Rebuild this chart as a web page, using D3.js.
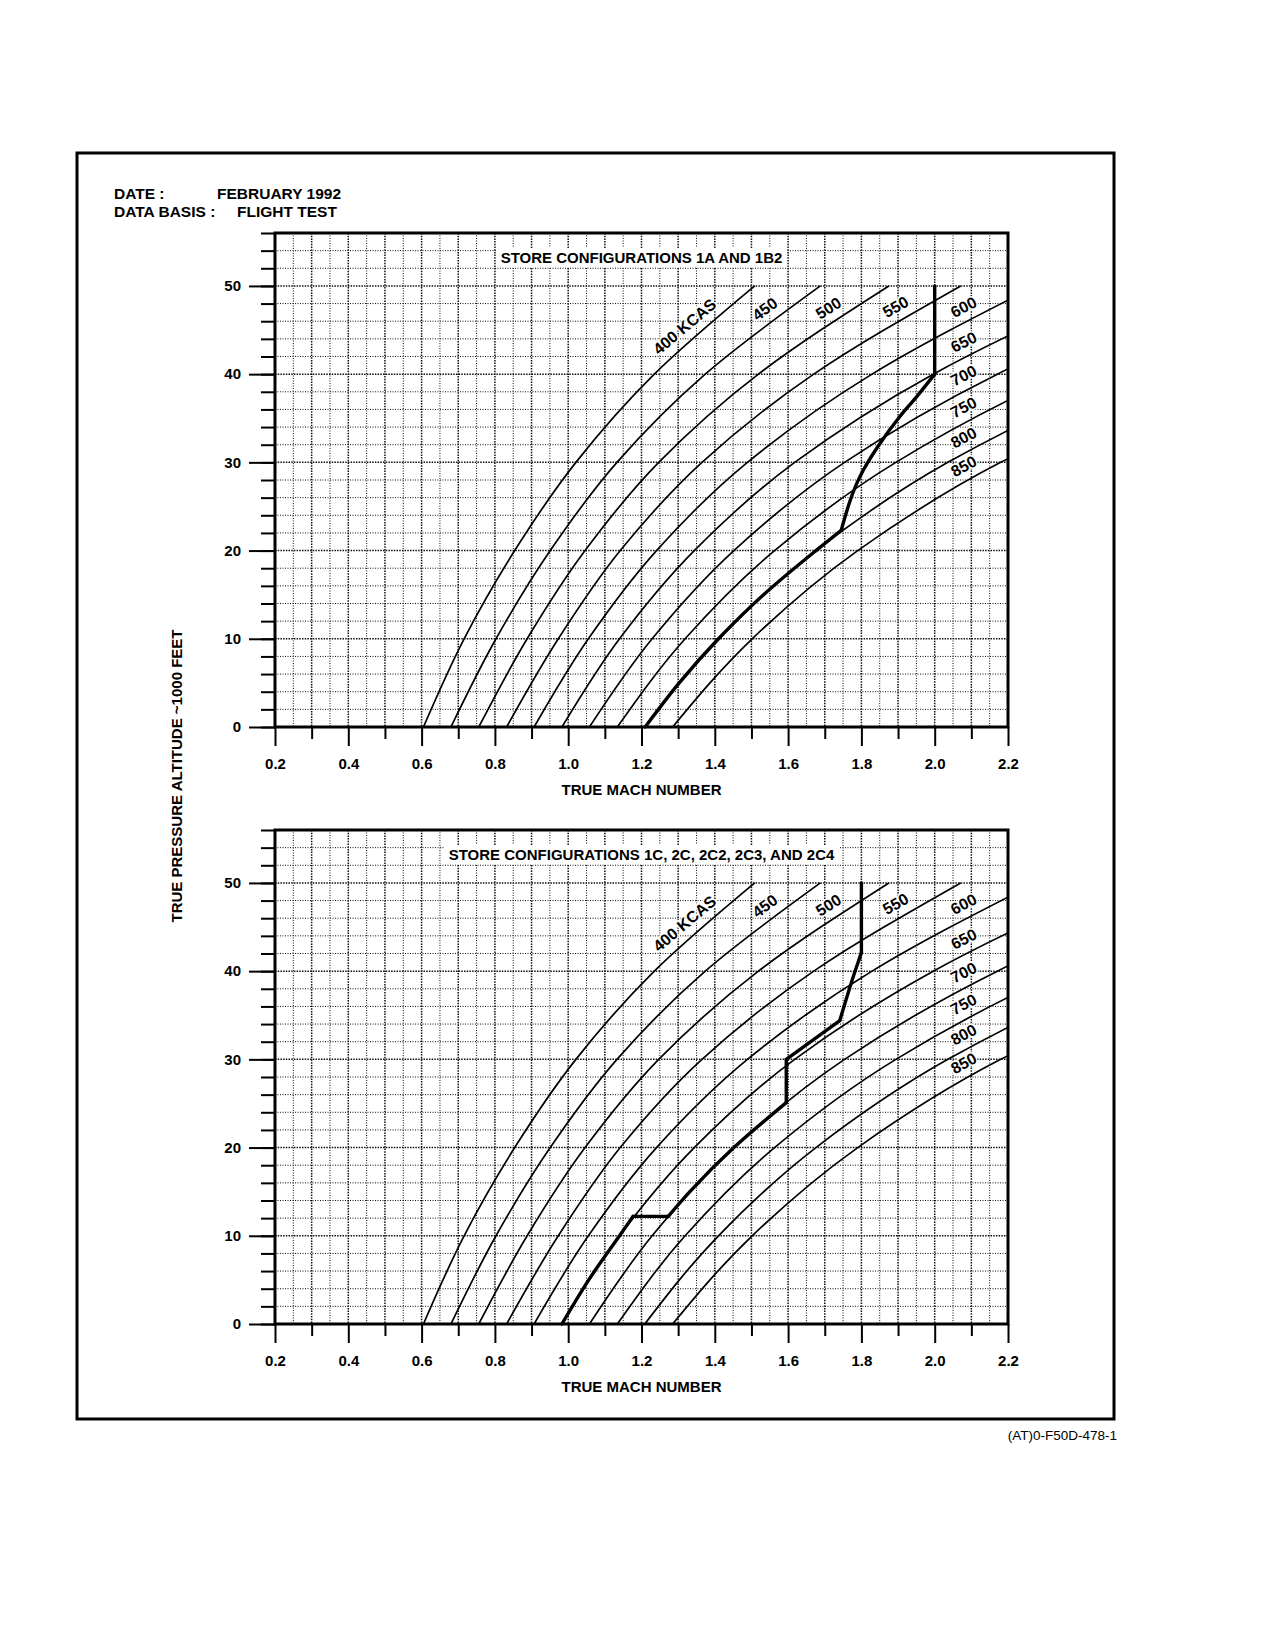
<!DOCTYPE html>
<html>
<head>
<meta charset="utf-8">
<script src="https://cdn.jsdelivr.net/npm/d3@7"></script>
<style>
  body { margin: 0; background: #fff; }
  text { font-family: "Liberation Sans", Arial, Helvetica, sans-serif; font-weight: bold; fill: #000; }
  text.plain { font-weight: normal; }
</style>
</head>
<body>
<svg id="chart" width="1270" height="1643"></svg>
<script>
// altitude rows (1000 ft) at which each KCAS curve was read
const altitudes = [0, 10, 20, 30, 40, 50];
const kcasSpeeds = [400, 450, 500, 550, 600, 650, 700, 750, 800, 850];

// true Mach at the altitudes above
const mach400 = [0.605, 0.716, 0.854, 1.021, 1.235, 1.509];
const mach450 = [0.680, 0.803, 0.951, 1.133, 1.374, 1.688];
const mach500 = [0.756, 0.888, 1.046, 1.247, 1.519, 1.875];
const mach550 = [0.832, 0.973, 1.142, 1.365, 1.670, 2.071];
const mach600 = [0.907, 1.055, 1.241, 1.489, 1.829, 2.276];
const mach650 = [0.983, 1.140, 1.344, 1.618, 1.996, 2.492];
const mach700 = [1.058, 1.229, 1.452, 1.754, 2.171, 2.720];
const mach750 = [1.134, 1.319, 1.563, 1.894, 2.351, 2.960];
const mach800 = [1.209, 1.410, 1.676, 2.036, 2.535, 3.200];
const mach850 = [1.285, 1.502, 1.790, 2.180, 2.720, 3.450];
const machByKcas = [mach400, mach450, mach500, mach550, mach600,
                    mach650, mach700, mach750, mach800, mach850];

// limit lines (heavy), one sub-array per smooth run between corners
const limitTopMach = [[1.210, 1.303, 1.410, 1.533, 1.676, 1.745],
                      [1.745, 1.805, 1.845, 1.905, 1.950, 2.000],
                      [2.000, 2.000]];
const limitTopAlt  = [[0, 5, 10, 15, 20, 22.3],
                      [22.3, 29.1, 31.8, 35.2, 37.4, 40],
                      [40, 50]];
const limitBotMach = [[0.983, 1.056, 1.140, 1.177],
                      [1.177, 1.273],
                      [1.273, 1.332, 1.452, 1.595],
                      [1.595, 1.595],
                      [1.595, 1.741],
                      [1.741, 1.782, 1.800],
                      [1.800, 1.800]];
const limitBotAlt  = [[0, 5, 10, 12.2],
                      [12.2, 12.2],
                      [12.2, 15, 20, 25.1],
                      [25.1, 30.0],
                      [30.0, 34.4],
                      [34.4, 39.9, 42.1],
                      [42.1, 50]];

const machTicks = [0.2, 0.4, 0.6, 0.8, 1.0, 1.2, 1.4, 1.6, 1.8, 2.0, 2.2];
const altTicks = [0, 10, 20, 30, 40, 50];
const panelTitles = ['STORE CONFIGURATIONS 1A AND 1B2',
                     'STORE CONFIGURATIONS 1C, 2C, 2C2, 2C3, AND 2C4'];

const svg = d3.select('#chart');
const FONT = '"Liberation Sans", Arial, Helvetica, sans-serif';

// outer frame + header
svg.append('rect')
  .attr('x', 77).attr('y', 153).attr('width', 1037).attr('height', 1266)
  .attr('fill', 'none').attr('stroke', '#000').attr('stroke-width', 3);

const header = svg.append('g').attr('font-size', 15.5);
header.append('text').attr('x', 114).attr('y', 199).text('DATE :');
header.append('text').attr('x', 217).attr('y', 199).text('FEBRUARY 1992');
header.append('text').attr('x', 114).attr('y', 217).text('DATA BASIS :');
header.append('text').attr('x', 237).attr('y', 217).text('FLIGHT TEST');

svg.append('text')
  .attr('class', 'plain')
  .attr('x', 1117).attr('y', 1440)
  .attr('text-anchor', 'end')
  .attr('font-size', 13.5)
  .text('(AT)0-F50D-478-1');

svg.append('text')
  .attr('transform', 'translate(182,776) rotate(-90)')
  .attr('text-anchor', 'middle')
  .attr('font-size', 15)
  .text('TRUE PRESSURE ALTITUDE ~1000 FEET');

const x = d3.scaleLinear().domain([0.2, 2.2]).range([275, 1008]);

const curves = kcasSpeeds.map((k, i) => ({
  kcas: k,
  pts: altitudes.map((a, j) => ({a, m: machByKcas[i][j]})).reverse()
}));

const toRuns = (machs, alts) => machs.map((run, r) => run.map((m, i) => ({m, a: alts[r][i]})));

const panels = [
  {title: panelTitles[0], base: 727, limit: toRuns(limitTopMach, limitTopAlt)},
  {title: panelTitles[1], base: 1324, limit: toRuns(limitBotMach, limitBotAlt)}
];

panels.forEach((p, pi) => {
  const y = d3.scaleLinear().domain([0, 56]).range([p.base, p.base - 494]);
  const g = svg.append('g');
  const top = y(56), x0 = x(0.2), x1 = x(2.2);

  // grid
  const grid = g.append('g').attr('fill', 'none').attr('stroke', '#111');
  d3.range(5, 44).map(i => i * 0.05).forEach((v, i) => {
    const major = i % 2 === 1;
    grid.append('line')
      .attr('x1', x(v)).attr('x2', x(v)).attr('y1', top).attr('y2', p.base)
      .attr('stroke-width', major ? 1.5 : 1)
      .attr('stroke-dasharray', major ? '1.5,1.2' : '1,1.5');
  });
  d3.range(1, 28).map(i => i * 2).forEach(v => {
    const major = v % 10 === 0;
    grid.append('line')
      .attr('x1', x0).attr('x2', x1).attr('y1', y(v)).attr('y2', y(v))
      .attr('stroke-width', major ? 1.5 : 1)
      .attr('stroke-dasharray', major ? '1.5,1.2' : '1,1.5');
  });

  // panel title on white box
  const title = g.append('text')
    .attr('x', (x0 + x1) / 2).attr('y', top + 30)
    .attr('text-anchor', 'middle').attr('font-size', 15)
    .text(p.title);
  const bb = title.node().getBBox();
  g.insert('rect', () => title.node())
    .attr('x', bb.x - 4).attr('y', bb.y - 1).attr('width', bb.width + 8).attr('height', bb.height + 2)
    .attr('fill', '#fff');

  // KCAS curves
  const clipId = 'clip' + pi;
  g.append('clipPath').attr('id', clipId)
    .append('rect').attr('x', x0).attr('y', top).attr('width', x1 - x0).attr('height', p.base - top);

  const line = d3.line().x(d => x(d.m)).y(d => y(d.a)).curve(d3.curveMonotoneY);
  const cg = g.append('g').attr('clip-path', `url(#${clipId})`);
  const paths = cg.selectAll('path.kcas')
    .data(curves).enter().append('path')
      .attr('class', 'kcas')
      .attr('d', d => line(d.pts))
      .attr('fill', 'none').attr('stroke', '#000').attr('stroke-width', 1.7);

  // limit line
  g.append('g').selectAll('path')
    .data(p.limit).enter().append('path')
      .attr('d', d => line(d))
      .attr('fill', 'none').attr('stroke', '#000').attr('stroke-width', 3.4)
      .attr('stroke-linecap', 'round').attr('stroke-linejoin', 'round');

  // curve labels, placed along each curve
  const yLab = y(47), xLab = x(2.13);
  paths.each(function(d) {
    const node = this, len = node.getTotalLength();
    let L = 0;
    for (; L < len; L += 0.5) {
      const pt = node.getPointAtLength(L);
      if (pt.y >= yLab && pt.x <= xLab) break;
    }
    const pt = node.getPointAtLength(L);
    const pa = node.getPointAtLength(Math.max(0, L - 4));
    const pb = node.getPointAtLength(Math.min(len, L + 4));
    const ang = Math.atan2(pa.y - pb.y, pa.x - pb.x) * 180 / Math.PI;
    g.append('text')
      .attr('transform', `translate(${pt.x},${pt.y}) rotate(${ang})`)
      .attr('x', 0).attr('y', -14)
      .attr('dominant-baseline', 'central')
      .attr('text-anchor', 'end')
      .attr('font-size', 16)
      .attr('stroke', '#fff').attr('stroke-width', 3).attr('paint-order', 'stroke')
      .text(d.kcas === 400 ? '400 KCAS' : d.kcas);
  });

  // frame
  g.append('rect')
    .attr('x', x0).attr('y', top).attr('width', x1 - x0).attr('height', p.base - top)
    .attr('fill', 'none').attr('stroke', '#000').attr('stroke-width', 3);

  // axes
  const styleAxis = sel => {
    sel.select('.domain').remove();
    sel.attr('font-family', FONT).attr('font-size', 15).attr('font-weight', 'bold');
    sel.selectAll('line').attr('stroke-width', 2);
  };
  g.append('g').attr('transform', `translate(${x0},0)`)
    .call(d3.axisLeft(y).tickValues(d3.range(0, 57, 2)).tickSize(14).tickFormat(''))
    .call(styleAxis);
  g.append('g').attr('transform', `translate(${x0},0)`)
    .call(d3.axisLeft(y).tickValues(altTicks).tickSize(26).tickPadding(8))
    .call(styleAxis);
  g.append('g').attr('transform', `translate(0,${p.base})`)
    .call(d3.axisBottom(x).tickValues(d3.range(3, 22, 2).map(i => i / 10)).tickSize(12).tickFormat(''))
    .call(styleAxis);
  g.append('g').attr('transform', `translate(0,${p.base})`)
    .call(d3.axisBottom(x).tickValues(machTicks).tickSize(19).tickPadding(12).tickFormat(d3.format('.1f')))
    .call(styleAxis);

  g.append('text')
    .attr('x', (x0 + x1) / 2).attr('y', p.base + 68)
    .attr('text-anchor', 'middle').attr('font-size', 15)
    .text('TRUE MACH NUMBER');
});
</script>
</body>
</html>
